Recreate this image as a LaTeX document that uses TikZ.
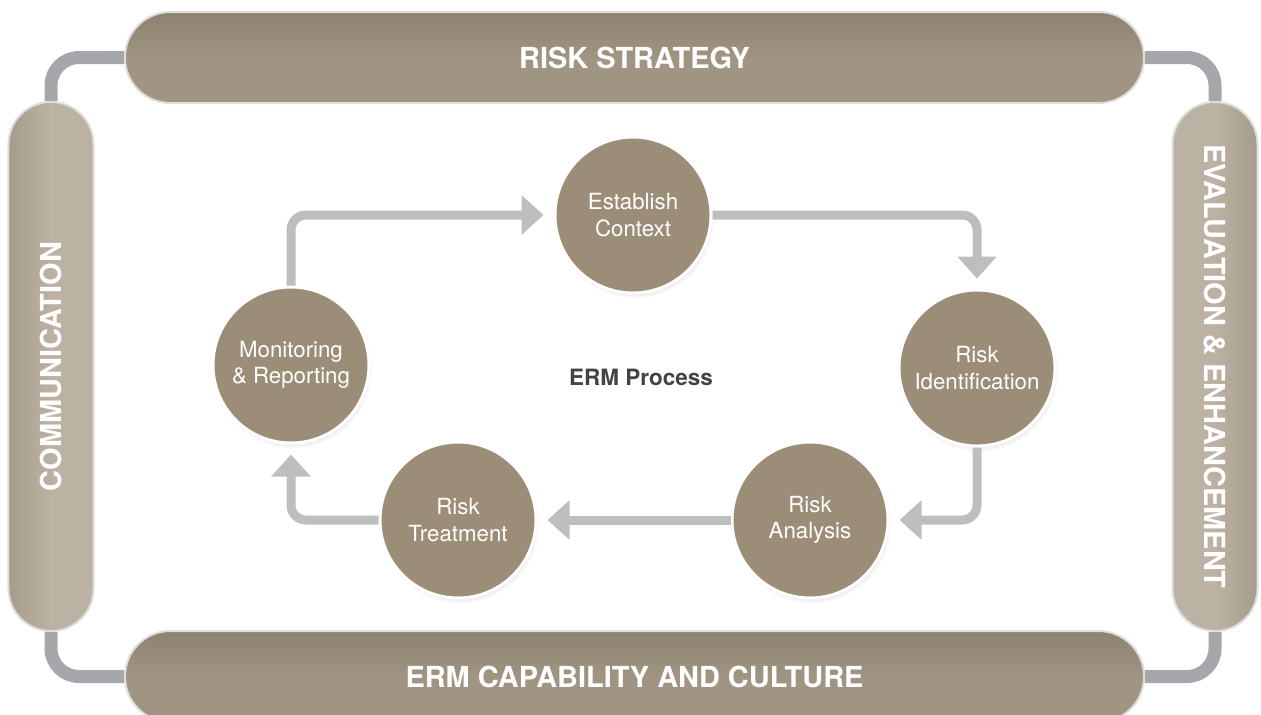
\documentclass[tikz,border=0pt]{standalone}
\usepackage{fontspec}
\setmainfont{TeX Gyre Heros}
\usepackage{tikz}
\usetikzlibrary{arrows.meta}
\usetikzlibrary{shadows}

\definecolor{stagefill}{HTML}{9B8D78}
\definecolor{bandfill}{HTML}{A09583}
\definecolor{banddark}{HTML}{8C826F}
\definecolor{sidefill}{HTML}{BCB2A3}
\definecolor{sidedark}{HTML}{A69C8C}
\definecolor{barrim}{HTML}{DDDDDD}
\definecolor{linkgray}{HTML}{A6A7AB}
\definecolor{flowgray}{HTML}{BDBEC0}
\definecolor{titlegray}{HTML}{434343}

\begin{document}
\begin{tikzpicture}[x=0.03cm, y=-0.03cm,
    stage/.style={circle, minimum size=4.68cm, inner sep=0pt, fill=stagefill, draw=white, line width=0.09cm,
      text=white, align=center, font=\fontsize{19}{22.6}\selectfont,
      circular drop shadow={shadow xshift=0.05cm, shadow yshift=-0.12cm, opacity=0.35, shadow scale=1.02}},
    band/.style={rectangle, rounded corners=1.36cm, minimum width=30.57cm, minimum height=2.73cm,
      draw=barrim, line width=0.06cm, top color=banddark, bottom color=bandfill, middle color=bandfill,
      text=white, font=\fontsize{24.7}{28}\selectfont\bfseries},
    side/.style={rectangle, rounded corners=1.27cm, minimum width=2.55cm, minimum height=15.87cm,
      draw=barrim, line width=0.06cm, text=white, font=\fontsize{24.7}{28}\selectfont\bfseries},
    link/.style={draw=linkgray, line width=0.39cm, rounded corners=0.84cm},
    flow/.style={draw=flowgray, line width=0.27cm, rounded corners=0.45cm,
      -{Triangle[width=1.15cm,length=0.66cm]}, shorten >=0.3cm}]
    \useasboundingbox (0,0) rectangle (1261,714);
    \clip (0,0) rectangle (1261,714);

    % outer frame
    \node[band] (top) at (634.5,57.5) {RISK STRATEGY};
    \node[band] (bottom) at (634.5,676.5) {ERM CAPABILITY AND CULTURE};
    \node[side, left color=sidedark, right color=sidefill, middle color=sidefill] (left) at (51,366.5)
      {\rotatebox{90}{COMMUNICATION}};
    \node[side, left color=sidefill, right color=sidedark, middle color=sidefill] (right) at (1215,366.5)
      {\rotatebox{-90}{EVALUATION \& ENHANCEMENT}};
    \foreach \i/\j in {left.north/top.west, right.north/top.east,
      left.south/bottom.west, right.south/bottom.east}
      \draw[link] (\i) |- (\j);

    % process cycle
    \node[font=\fontsize{19.2}{22}\selectfont\bfseries, text=titlegray] (erm) at (641,377) {ERM Process};
    \node[stage] (est) at (633,215) {Establish\\Context};
    \node[stage] (ident) at (977,368) {Risk\\Identification};
    \node[stage] (anal) at (810,520) {Risk\\Analysis};
    \node[stage] (treat) at (458,520) {Risk\\Treatment};
    \node[stage] (mon) at (291,365) {Monitoring\\\& Reporting};

    \draw[flow] (mon.north) |- (est.west);
    \draw[flow] (est.east) -| (ident.north);
    \draw[flow] (ident.south) |- (anal.east);
    \draw[flow] (anal.west) -- (treat.east);
    \draw[flow] (treat.west) -| (mon.south);
\end{tikzpicture}
\end{document}
